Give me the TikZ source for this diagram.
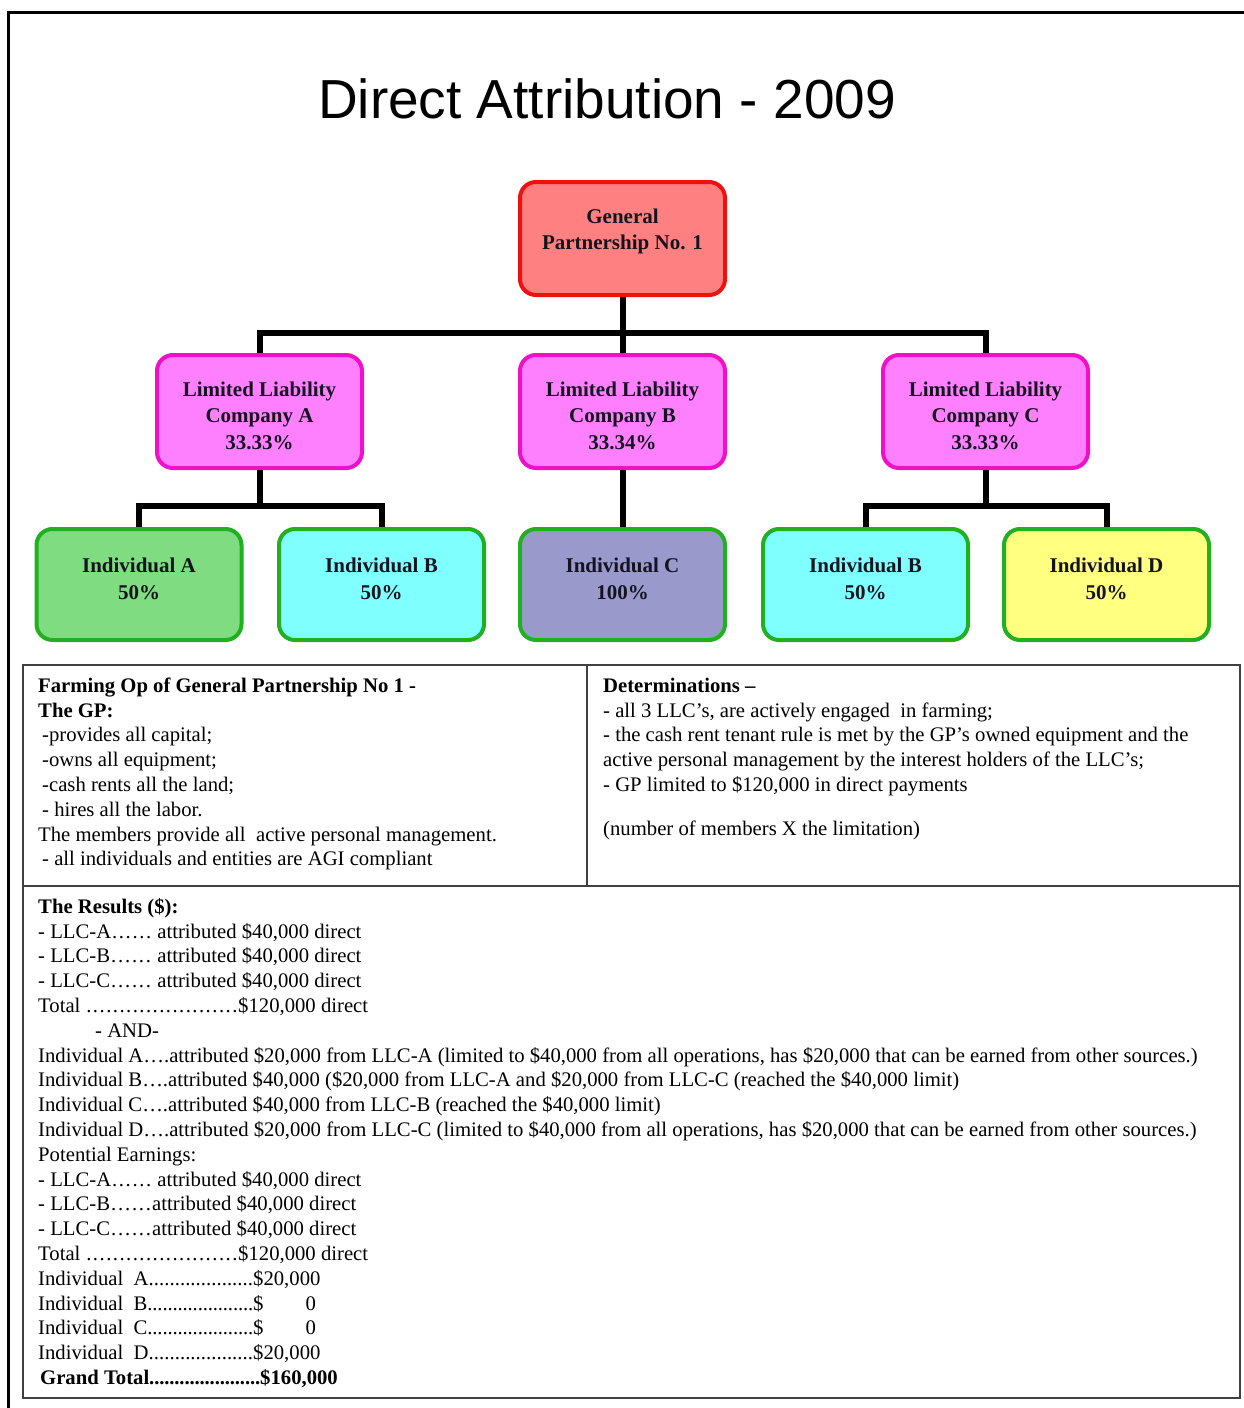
\documentclass[tikz,border=0pt]{standalone}
\usepackage{fontspec}
\setmainfont{Liberation Serif}
\newfontfamily\titlefont{Liberation Sans}
\definecolor{gpfill}{HTML}{FF8080}
\definecolor{gpline}{HTML}{F01010}
\definecolor{llcfill}{HTML}{FF80FF}
\definecolor{llcline}{HTML}{F010C8}
\definecolor{indline}{HTML}{20B020}
\definecolor{afill}{HTML}{80DC80}
\definecolor{bfill}{HTML}{80FFFF}
\definecolor{cfill}{HTML}{9999CC}
\definecolor{dfill}{HTML}{FFFF80}
\definecolor{frameline}{HTML}{404040}
\definecolor{boxtext}{HTML}{141420}
\newcommand\dlead[2]{\makebox[#1][l]{#2\xleaders\hbox to 6.6pt{\hss.\hss}\hfill}}
\newcommand\slead[2]{\makebox[#1][l]{#2\xleaders\hbox to 5pt{\hss.\hss}\hfill}}
\begin{document}
\begin{tikzpicture}[x=1pt,y=-1pt,
  orgbox/.style={rounded corners=16pt, line width=4pt, minimum width=205pt,
    minimum height=113pt, inner sep=0pt},
  boxlabel/.style={align=center, text=boxtext, inner sep=0pt,
    font=\bfseries\fontsize{21}{26.5}\selectfont},
  gpbox/.style={orgbox, draw=gpline, fill=gpfill},
  llcbox/.style={orgbox, draw=llcline, fill=llcfill},
  indbox/.style={orgbox, draw=indline, minimum height=111pt},
  conn/.style={line width=6pt, black},
  panel/.style={draw=frameline, line width=2pt},
  txt/.style={anchor=north west, inner sep=0pt, align=left,
    font=\fontsize{20.7}{24.8}\selectfont}
]
\useasboundingbox (0,0) rectangle (1244,1408);
\fill[white] (0,0) rectangle (1244,1408);
% outer frame
\draw[line width=3pt] (8,1410) -- (8,12.5) -- (1246,12.5);

% title
\node (title) at (607,99) {\titlefont\fontsize{55}{60}\selectfont Direct Attribution - 2009};

% org chart boxes
\node[gpbox, label={[boxlabel,yshift=7pt]center:General\\Partnership No. 1}] (gp) at (622.5,238.5) {};
\node[llcbox, label={[boxlabel,yshift=-4pt]center:Limited Liability\\Company A\\33.33\%}] (llcA) at (259.5,411.5) {};
\node[llcbox, label={[boxlabel,yshift=-4pt]center:Limited Liability\\Company B\\33.34\%}] (llcB) at (622.5,411.5) {};
\node[llcbox, label={[boxlabel,yshift=-4pt]center:Limited Liability\\Company C\\33.33\%}] (llcC) at (985.5,411.5) {};
\node[indbox, fill=afill, label={[boxlabel,yshift=5.5pt]center:Individual A\\50\%}] (indA) at (139,584.5) {};
\node[indbox, fill=bfill, label={[boxlabel,yshift=5.5pt]center:Individual B\\50\%}] (indB) at (381.5,584.5) {};
\node[indbox, fill=cfill, label={[boxlabel,yshift=5.5pt]center:Individual C\\100\%}] (indC) at (622.5,584.5) {};
\node[indbox, fill=bfill, label={[boxlabel,yshift=5.5pt]center:Individual B\\50\%}] (indB2) at (865.5,584.5) {};
\node[indbox, fill=dfill, label={[boxlabel,yshift=5.5pt]center:Individual D\\50\%}] (indD) at (1106.5,584.5) {};

% connectors
\draw[conn] (gp.south) -- (llcB.north);
\draw[conn] (llcA.north) -- ++(0,-20) -| (llcC.north);
\draw[conn] (llcA.south) -- ++(0,37);
\draw[conn] (indA.north) -- ++(0,-21) -| (indB.north);
\draw[conn] (llcB.south) -- (indC.north);
\draw[conn] (llcC.south) -- ++(0,37);
\draw[conn] (indB2.north) -- ++(0,-21) -| (indD.north);

% panels
\draw[panel] (23,665) rectangle (587,886);
\draw[panel] (587,665) rectangle (1240,886);
\draw[panel] (23,886) rectangle (1240,1398);

\node[txt] (gptext) at (38,674.7) {\strut\textbf{Farming Op of General Partnership No 1 -}\\
\textbf{The GP:}\\
\hspace{4pt}-provides all capital;\\
\hspace{4pt}-owns all equipment;\\
\hspace{4pt}-cash rents all the land;\\
\hspace{4pt}- hires all the labor.\\
The members provide all\ \ active personal management.\\
\hspace{4pt}- all individuals and entities are AGI compliant};

\node[txt] (dettext) at (603,674.7) {\strut\textbf{Determinations –}\\
- all 3 LLC’s, are actively engaged\ \ in farming;\\
- the cash rent tenant rule is met by the GP’s owned equipment and the\\
active personal management by the interest holders of the LLC’s;\\
- GP limited to \$120,000 in direct payments\\[19pt]
(number of members X the limitation)};

\node[txt] (restext) at (38,895.7) {\strut\textbf{The Results (\$):}\\
\dlead{114pt}{- LLC-A} attributed \$40,000 direct\\
\dlead{114pt}{- LLC-B} attributed \$40,000 direct\\
\dlead{114pt}{- LLC-C} attributed \$40,000 direct\\
\dlead{200pt}{Total }\$120,000 direct\\
\hspace{57pt}- AND-\\
Individual A….attributed \$20,000 from LLC-A (limited to \$40,000 from all operations, has \$20,000 that can be earned from other sources.)\\
Individual B….attributed \$40,000 (\$20,000 from LLC-A and \$20,000 from LLC-C (reached the \$40,000 limit)\\
Individual C….attributed \$40,000 from LLC-B (reached the \$40,000 limit)\\
Individual D….attributed \$20,000 from LLC-C (limited to \$40,000 from all operations, has \$20,000 that can be earned from other sources.)\\
Potential Earnings:\\
\dlead{114pt}{- LLC-A} attributed \$40,000 direct\\
\dlead{114pt}{- LLC-B}attributed \$40,000 direct\\
\dlead{114pt}{- LLC-C}attributed \$40,000 direct\\
\dlead{200pt}{Total }\$120,000 direct\\
\slead{215pt}{Individual\ \ A}\$20,000\\
\slead{215pt}{Individual\ \ B}\$\hspace{42pt}0\\
\slead{215pt}{Individual\ \ C}\$\hspace{42pt}0\\
\slead{215pt}{Individual\ \ D}\$20,000\\
\hspace{2pt}\textbf{\slead{220pt}{Grand Total}\$160,000}};
\end{tikzpicture}
\end{document}
